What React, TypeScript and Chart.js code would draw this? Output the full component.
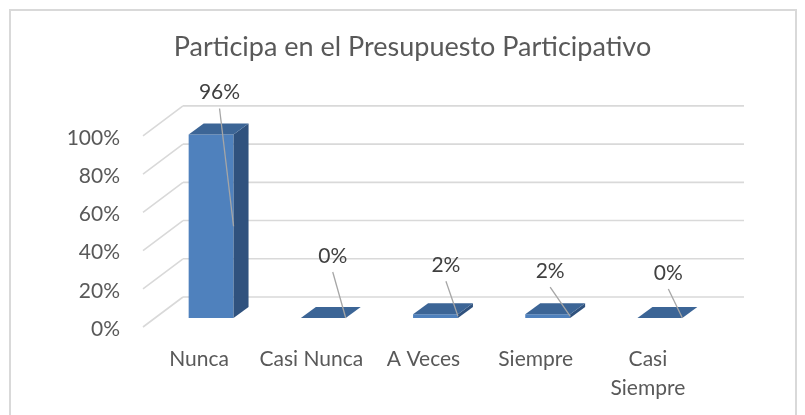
import React, { useEffect, useRef } from "react";
import { Chart, registerables } from "chart.js";

Chart.register(...registerables);

const TITLE = "Participa en el Presupuesto Participativo";
const categories: (string | string[])[] = ["Nunca", "Casi Nunca", "A Veces", "Siempre", ["Casi", "Siempre"]];
const values = [0.96, 0, 0.02, 0.02, 0];
const valueLabels = ["96%", "0%", "2%", "2%", "0%"];
// manual nudges of the data labels (relative to bar's front-right top corner)
const labelNudgeX = [-14, -13, -12, -20, -14];
const labelNudgeY = [-42, -62, -49, -43, -45];

const FONT = "Lato";
const FRONT = "#4f81bd";
const TOP = "#3c6596";
const SIDE = "#30527e";
const GRID = "#d9d9d9";

// 3D geometry offsets
const FLOOR_DX = 12, FLOOR_DY = 9;
const WALL_DX = 28, WALL_DY = 21;
const BAR_DX = 15, BAR_DY = 11;

const depthPlugin = {
  id: "depth3d",
  beforeDraw(chart: any) {
    const ctx = chart.ctx;
    ctx.save();
    ctx.strokeStyle = GRID;
    ctx.lineWidth = 2;
    ctx.strokeRect(10, 10, 786, 600);
    ctx.restore();
  },
  beforeDatasetsDraw(chart: any) {
    const { ctx, chartArea, scales } = chart;
    const y = scales.y;
    ctx.save();
    ctx.strokeStyle = GRID;
    ctx.lineWidth = 1.6;
    for (const t of y.ticks) {
      const py = y.getPixelForValue(t.value);
      ctx.beginPath();
      ctx.moveTo(chartArea.left + WALL_DX, py - WALL_DY);
      ctx.lineTo(chartArea.right + WALL_DX, py - WALL_DY);
      ctx.moveTo(chartArea.left - FLOOR_DX, py + FLOOR_DY);
      ctx.lineTo(chartArea.left + WALL_DX, py - WALL_DY);
      ctx.stroke();
    }
    ctx.restore();
  },
  afterDatasetsDraw(chart: any) {
    const ctx = chart.ctx;
    const meta = chart.getDatasetMeta(0);
    ctx.save();
    meta.data.forEach((el: any) => {
      const { x, y, base, width } = el.getProps(["x", "y", "base", "width"], true);
      const l = x - width / 2;
      const r = x + width / 2;
      ctx.fillStyle = SIDE;
      ctx.beginPath();
      ctx.moveTo(r, y);
      ctx.lineTo(r + BAR_DX, y - BAR_DY);
      ctx.lineTo(r + BAR_DX, base - BAR_DY);
      ctx.lineTo(r, base);
      ctx.closePath();
      ctx.fill();
      ctx.fillStyle = TOP;
      ctx.beginPath();
      ctx.moveTo(l, y);
      ctx.lineTo(r, y);
      ctx.lineTo(r + BAR_DX, y - BAR_DY);
      ctx.lineTo(l + BAR_DX, y - BAR_DY);
      ctx.closePath();
      ctx.fill();
    });
    meta.data.forEach((el: any, i: number) => {
      const { x, y, base, width } = el.getProps(["x", "y", "base", "width"], true);
      const r = x + width / 2;
      const cx = r + labelNudgeX[i];
      const cy = y + labelNudgeY[i];
      ctx.strokeStyle = "#a6a6a6";
      ctx.lineWidth = 1.3;
      ctx.beginPath();
      ctx.moveTo(cx, cy + 16);
      ctx.lineTo(r, (y + base) / 2);
      ctx.stroke();
      ctx.fillStyle = "#404040";
      ctx.font = `21px ${FONT}`;
      ctx.textAlign = "center";
      ctx.textBaseline = "middle";
      ctx.fillText(valueLabels[i], cx, cy);
    });
    ctx.restore();
  },
};

export default function App() {
  const ref = useRef<HTMLCanvasElement | null>(null);
  useEffect(() => {
    if (!ref.current) return;
    const chart = new Chart(ref.current, {
      type: "bar",
      data: {
        labels: categories,
        datasets: [
          {
            data: values,
            backgroundColor: FRONT,
            barPercentage: 0.4,
            categoryPercentage: 1,
          },
        ],
      },
      options: {
        responsive: false,
        animation: false,
        devicePixelRatio: 1,
        layout: { padding: { top: 0, left: 20, right: 0, bottom: 0 } },
        plugins: {
          legend: { display: false },
          tooltip: { enabled: false },
          title: {
            display: true,
            text: TITLE,
            color: "#595959",
            font: { family: FONT, size: 27, weight: "normal" },
            padding: { top: 31, bottom: 63.5 },
          },
        },
        scales: {
          x: {
            grid: { display: false, drawTicks: false },
            border: { display: false },
            ticks: {
              color: "#595959",
              font: { family: FONT, size: 21, lineHeight: "29px" },
              padding: 26.5,
              labelOffset: -12,
              maxRotation: 0,
              autoSkip: false,
            },
            afterFit: (s: any) => {
              s.height = 97;
            },
          },
          y: {
            min: 0,
            max: 1,
            grid: { display: false, drawTicks: false },
            border: { display: false },
            ticks: {
              stepSize: 0.2,
              color: "#595959",
              font: { family: FONT, size: 21 },
              padding: 35,
              labelOffset: 11,
              callback: (v: any) => Math.round(Number(v) * 100) + "%",
            },
            afterFit: (s: any) => {
              s.width = 135;
            },
          },
          yRight: {
            position: "right",
            display: true,
            grid: { display: false, drawTicks: false },
            border: { display: false },
            ticks: { display: false },
            afterFit: (s: any) => {
              s.width = 89;
            },
          },
        },
      },
      plugins: [depthPlugin],
    });
    return () => chart.destroy();
  }, []);
  return (
    <div style={{ position: "absolute", left: 0, top: 0, width: 805, height: 415, overflow: "hidden", background: "#fff" }}>
      <canvas ref={ref} width={805} height={415} style={{ display: "block" }} />
    </div>
  );
}
